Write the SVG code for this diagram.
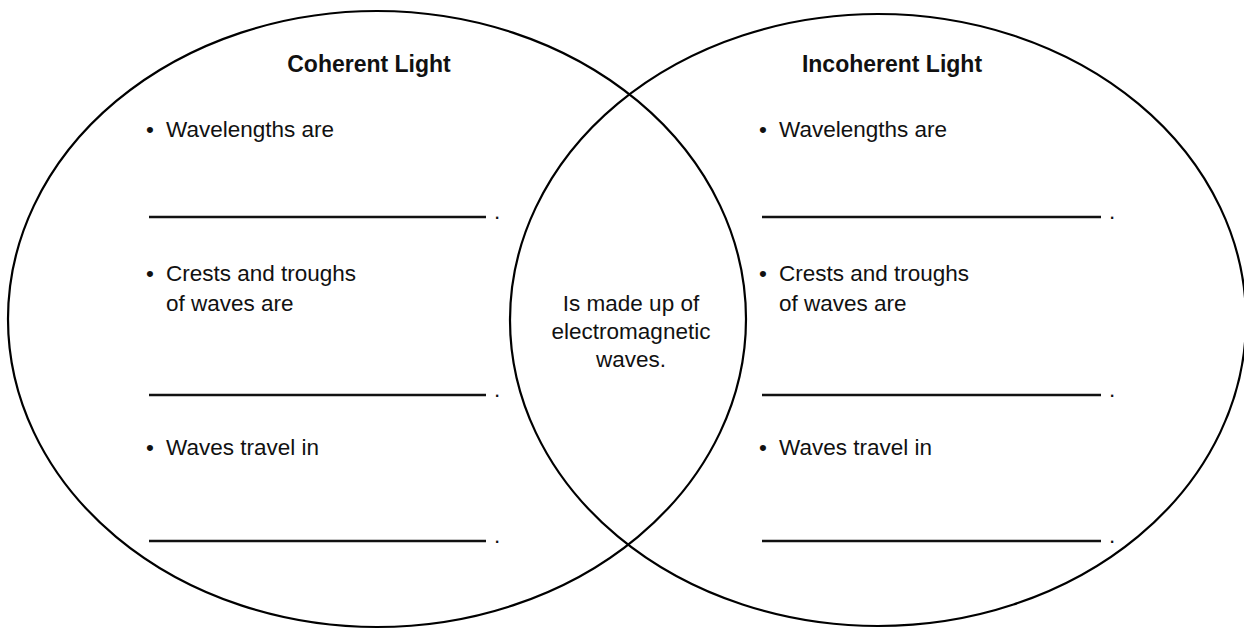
<svg xmlns="http://www.w3.org/2000/svg" width="1244" height="630" viewBox="0 0 1244 630">
<style>
.ring{fill:none;stroke:#000;stroke-width:2.2}
.blank{stroke:#111;stroke-width:2.4}
text{font-family:"Liberation Sans",Arial,sans-serif;font-size:22.5px;fill:#111}
.title{font-weight:bold;text-anchor:middle;font-size:23px}
.mid{text-anchor:middle}
</style>
<rect width="1244" height="630" fill="#fff"/>
<g id="coherent">
<ellipse class="ring" cx="377" cy="319" rx="369" ry="308"/>
<text class="title" x="369" y="72">Coherent Light</text>
<text x="146" y="137">•</text><text x="166" y="137">Wavelengths are</text>
<line class="blank" x1="149" y1="217" x2="486" y2="217"/><text x="494" y="219">.</text>
<text x="146" y="281">•</text><text x="166" y="281">Crests and troughs</text>
<text x="166" y="311">of waves are</text>
<line class="blank" x1="149" y1="395" x2="486" y2="395"/><text x="494" y="397">.</text>
<text x="146" y="455">•</text><text x="166" y="455">Waves travel in</text>
<line class="blank" x1="149" y1="541" x2="486" y2="541"/><text x="494" y="543">.</text>
</g>
<g id="incoherent">
<ellipse class="ring" cx="878" cy="320" rx="368" ry="306"/>
<text class="title" x="892" y="72">Incoherent Light</text>
<text x="759" y="137">•</text><text x="779" y="137">Wavelengths are</text>
<line class="blank" x1="762" y1="217" x2="1101" y2="217"/><text x="1109" y="219">.</text>
<text x="759" y="281">•</text><text x="779" y="281">Crests and troughs</text>
<text x="779" y="311">of waves are</text>
<line class="blank" x1="762" y1="395" x2="1101" y2="395"/><text x="1109" y="397">.</text>
<text x="759" y="455">•</text><text x="779" y="455">Waves travel in</text>
<line class="blank" x1="762" y1="541" x2="1101" y2="541"/><text x="1109" y="543">.</text>
</g>
<g id="shared">
<text class="mid" x="631" y="311">Is made up of</text>
<text class="mid" x="631" y="339">electromagnetic</text>
<text class="mid" x="631" y="367">waves.</text>
</g>
<g id="connectors"></g>
</svg>
